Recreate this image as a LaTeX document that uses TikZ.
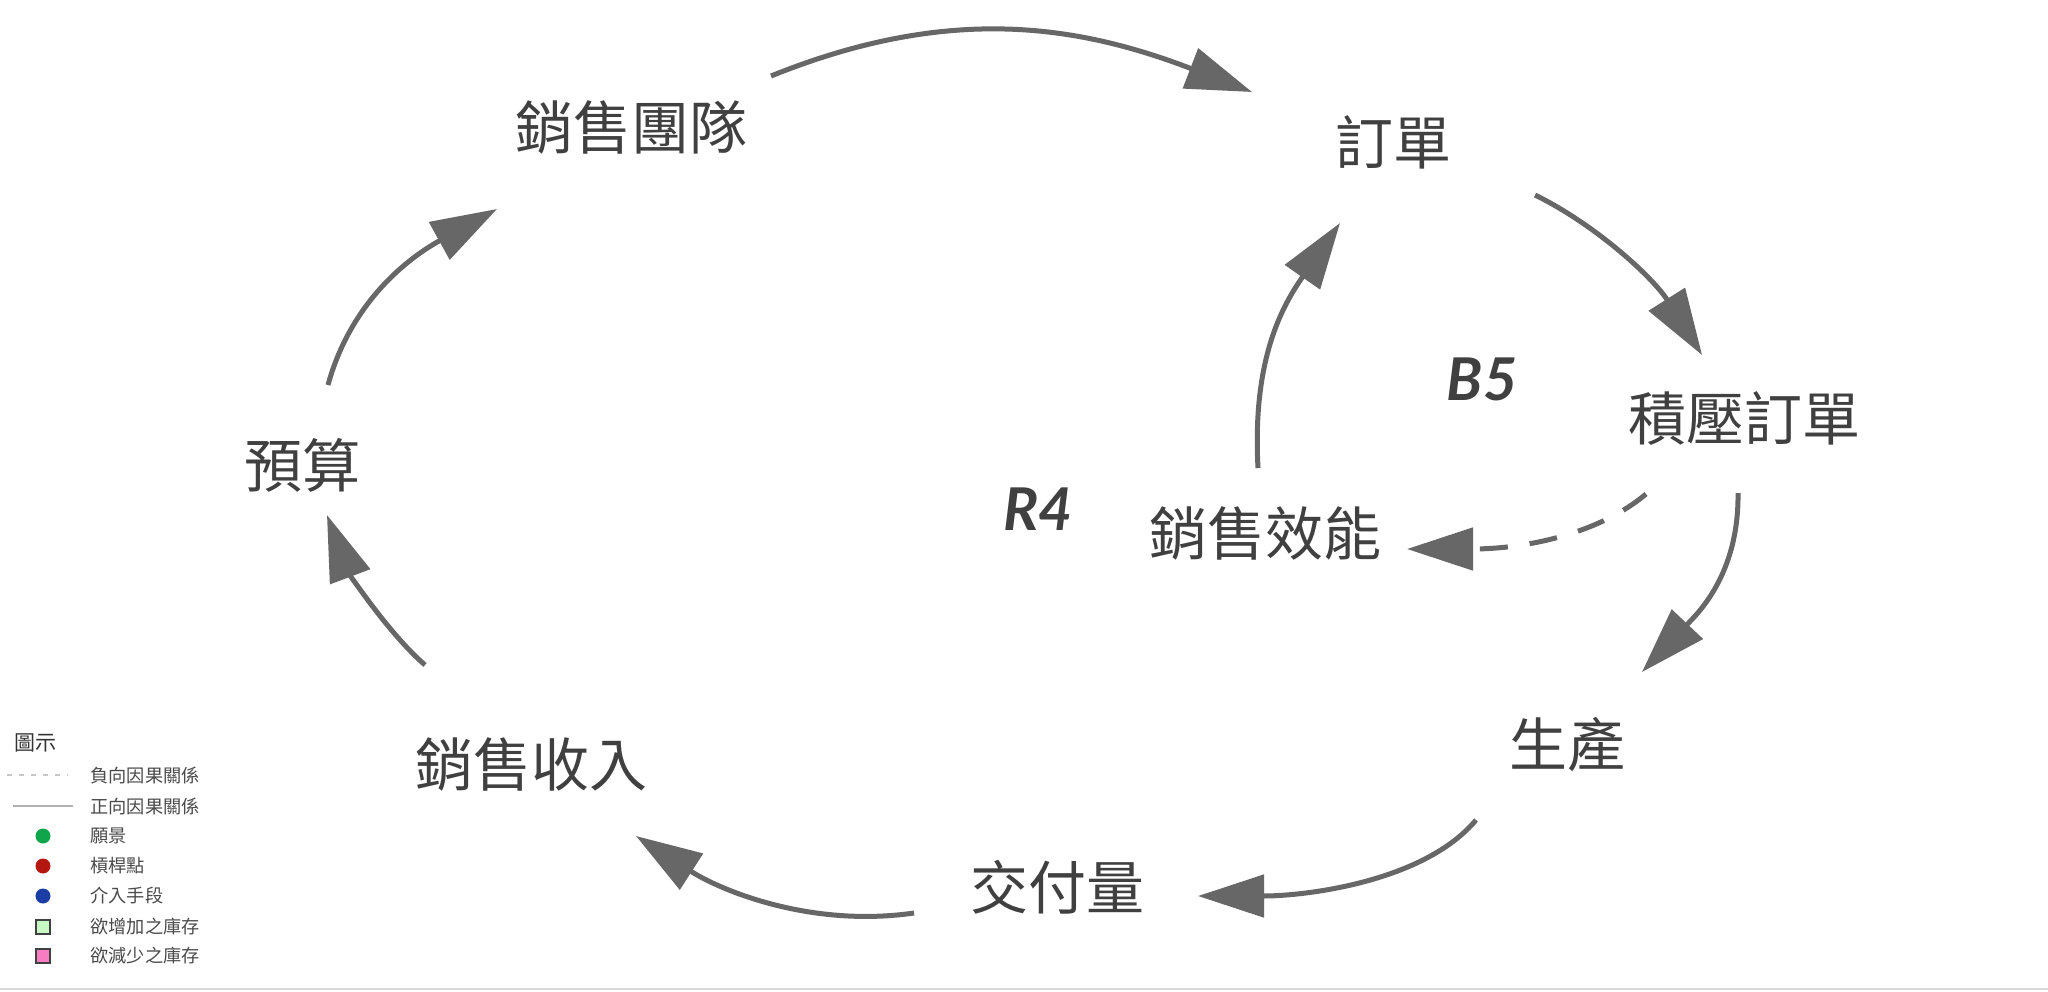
\documentclass[tikz,border=0pt]{standalone}
\usepackage{fontspec}
\newfontfamily\cjk{Noto Sans CJK TC}
\newfontfamily\latofont{Lato}
\usetikzlibrary{arrows.meta}
\definecolor{arrowgray}{HTML}{676767}
\definecolor{txtgray}{HTML}{404040}
\definecolor{leggray}{HTML}{4a4a4a}
\definecolor{visgreen}{HTML}{0fa54a}
\definecolor{levred}{HTML}{b3170f}
\definecolor{intblue}{HTML}{1b3da6}
\definecolor{incgreen}{HTML}{c8f8c4}
\definecolor{decpink}{HTML}{f77cc2}
\tikzset{
  lbl/.style={font=\cjk\fontsize{29pt}{31pt}\selectfont, text=txtgray, inner sep=0pt},
  looplbl/.style={font=\latofont\bfseries\itshape\fontsize{29.5pt}{31pt}\selectfont, text=txtgray, inner sep=0pt},
  link/.style={draw=arrowgray, line width=2.5pt, -{Triangle[length=33pt,width=21pt]}, arrowgray},
  neglink/.style={link, dash pattern=on 14pt off 11pt},
  legtxt/.style={font=\cjk\fontsize{9.1pt}{11pt}\selectfont, text=leggray, inner sep=0pt, anchor=west},
  legdot/.style={circle, minimum size=7.5pt, inner sep=0pt},
  legsq/.style={rectangle, minimum size=7pt, inner sep=0pt, draw=black!75, line width=0.6pt}
}
\begin{document}
\begin{tikzpicture}[x=0.5pt,y=-0.5pt]
\useasboundingbox (0,0) rectangle (2048,991);
\fill[white] (0,0) rectangle (2048,991);

% variables
\node[lbl] (team) at (631,127) {銷售團隊};
\node[lbl] (orders) at (1393,142) {訂單};
\node[lbl] (backlog) at (1744,418) {積壓訂單};
\node[lbl] (prod) at (1567,744) {生產};
\node[lbl] (deliv) at (1057,887) {交付量};
\node[lbl] (revenue) at (531,764) {銷售收入};
\node[lbl] (budget) at (302,465) {預算};
\node[lbl] (eff) at (1265,533) {銷售效能};
\node[looplbl] (r4) at (1038,509) {R4};
\node[looplbl] (b5) at (1482,379) {B5};

% connector ends
\coordinate (a1s) at (771,76);   \coordinate (a1e) at (1252,92);
\coordinate (a2s) at (1535,195); \coordinate (a2e) at (1702,355);
\coordinate (a3s) at (1738,493); \coordinate (a3e) at (1642,672);
\coordinate (a4s) at (1476,820); \coordinate (a4e) at (1198,896);
\coordinate (a5s) at (914,913);  \coordinate (a5e) at (636,836);
\coordinate (a6s) at (425,665);  \coordinate (a6e) at (327,515);
\coordinate (a7s) at (328,385);  \coordinate (a7e) at (497,209);
\coordinate (a8s) at (1258,468); \coordinate (a8e) at (1340,223);
\coordinate (a9s) at (1646,494); \coordinate (a9e) at (1407,549);

\draw[link] (a1s) .. controls (947,5) and (1075,24) .. (a1e);
\draw[link] (a2s) .. controls (1598,226) and (1654,279) .. (a2e);
\draw[link] (a3s) .. controls (1739,575) and (1697,614) .. (a3e);
\draw[link] (a4s) .. controls (1425,881) and (1308,896) .. (a4e);
\draw[link] (a5s) .. controls (810,928) and (720,890) .. (a5e);
\draw[link] (a6s) .. controls (387,632) and (348,571) .. (a6e);
\draw[link] (a7s) .. controls (349,308) and (401,262) .. (a7e);
\draw[link] (a8s) .. controls (1252,358) and (1283,305) .. (a8e);
\draw[neglink] (a9s) .. controls (1600,533) and (1527,549) .. (a9e);

% legend
\node[font=\cjk\fontsize{10.5pt}{12pt}\selectfont, text=black!80, inner sep=0pt, anchor=west] (legtitle) at (14,743) {圖示};
\coordinate (ld1) at (7,775); \coordinate (ld2) at (68,775);
\draw[black!22, line width=0.6pt, dash pattern=on 2.5pt off 3.5pt] (ld1) -- (ld2);
\coordinate (ls1) at (13,806); \coordinate (ls2) at (73,806);
\draw[black!30, line width=0.6pt] (ls1) -- (ls2);
\node[legtxt] (l1) at (90,775) {負向因果關係};
\node[legtxt] (l2) at (90,806) {正向因果關係};
\node[legdot, fill=visgreen] (d1) at (43,836) {};
\node[legtxt] (l3) at (90,836) {願景};
\node[legdot, fill=levred] (d2) at (43,866) {};
\node[legtxt] (l4) at (90,866) {槓桿點};
\node[legdot, fill=intblue] (d3) at (43,896) {};
\node[legtxt] (l5) at (90,896) {介入手段};
\node[legsq, fill=incgreen] (s1) at (43,927) {};
\node[legtxt] (l6) at (90,927) {欲增加之庫存};
\node[legsq, fill=decpink] (s2) at (43,956) {};
\node[legtxt] (l7) at (90,956) {欲減少之庫存};

\coordinate (bl1) at (0,989); \coordinate (bl2) at (2048,989);
\draw[black!15, line width=1pt] (bl1) -- (bl2);
\end{tikzpicture}
\end{document}
